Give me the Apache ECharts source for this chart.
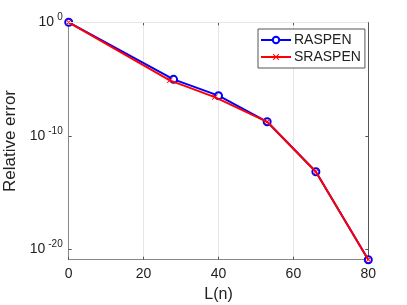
<!DOCTYPE html>
<html><head><meta charset="utf-8">
<script src="https://cdn.jsdelivr.net/npm/echarts@6/dist/echarts.min.js"></script>
<style>html,body{margin:0;padding:0;background:#fff}#c{width:407px;height:305px}</style>
</head><body><div id="c"></div>
<script>
var raspenX = [0, 28, 40, 53, 66, 80];
var raspenY = [1, 9.5e-6, 3.5e-7, 1.74e-9, 6.9e-14, 1.26e-21];
var sraspenX = [0, 27, 39, 53, 66, 80];
var sraspenY = [1, 7.8e-6, 2.6e-7, 1.74e-9, 6.9e-14, 1.26e-21];
var yMajorTicks = [1e-20, 1e-10, 1];
var yMinorGrid = [1e-15, 1e-5];
var xTicks = [0, 20, 40, 60, 80];

var font = 'Liberation Sans, Arial, sans-serif';
function pairs(xs, ys){ return xs.map(function(x,i){return [x, ys[i]];}); }
var crossPath = 'path://M0,1L1,0L5,4L9,0L10,1L6,5L10,9L9,10L5,6L1,10L0,9L4,5Z';

var chart = echarts.init(document.getElementById('c'));
chart.setOption({
  animation: false,
  backgroundColor: '#fff',
  grid: {left: 68.7, right: 38.7, top: 22.3, bottom: 45.3, containLabel: false, outerBoundsMode: 'none'},
  legend: {
    left: 258, top: 29, orient: 'vertical',
    backgroundColor: '#fff', borderColor: '#555', borderWidth: 1,
    padding: [4, 4, 4, 2], itemGap: 3, itemWidth: 30, itemHeight: 8,
    textStyle: {fontFamily: font, fontSize: 14, color: '#222', padding: [0,0,0,-2]},
    data: ['RASPEN', 'SRASPEN']
  },
  xAxis: [{
    type: 'value', min: 0, max: 80, interval: 20,
    name: 'L(n)', nameLocation: 'middle', nameGap: 27,
    nameTextStyle: {fontFamily: font, fontSize: 16, color: '#222'},
    axisLine: {show: true, onZero: false, lineStyle: {color: '#888', width: 1}},
    axisTick: {show: true, inside: true, length: 3, lineStyle: {color: '#555'}},
    axisLabel: {fontFamily: font, fontSize: 14, color: '#222', margin: 7, customValues: xTicks},
    splitLine: {show: true, lineStyle: {color: '#e6e6e6', width: 1}}
  }, {
    type: 'value', min: 0, max: 80, interval: 20, position: 'top',
    axisLine: {show: true, onZero: false, lineStyle: {color: '#555', width: 1}},
    axisTick: {show: true, inside: true, length: 3, lineStyle: {color: '#555'}},
    axisLabel: {show: false}, splitLine: {show: false}
  }],
  yAxis: [{
    type: 'log', logBase: 10, min: 1.26e-21, max: 1,
    name: 'Relative error', nameLocation: 'middle', nameGap: 48,
    nameTextStyle: {fontFamily: font, fontSize: 17, color: '#222'},
    axisLine: {show: true, onZero: false, lineStyle: {color: '#888', width: 1}},
    axisTick: {show: true, inside: true, length: 3, customValues: yMajorTicks, lineStyle: {color: '#555'}},
    axisLabel: {
      customValues: yMajorTicks, margin: 6,
      formatter: function(v){ return '{b|10}{s|' + Math.round(Math.log10(v)) + '}'; },
      rich: {
        b: {fontFamily: font, fontSize: 14, color: '#222'},
        s: {fontFamily: font, fontSize: 10, color: '#222', padding: [0, 0, 10, 3]}
      }
    },
    splitLine: {show: false}
  }, {
    type: 'log', logBase: 10, min: 1.26e-21, max: 1, position: 'right',
    axisLine: {show: true, onZero: false, lineStyle: {color: '#555', width: 1}},
    axisTick: {show: true, inside: true, length: 3, customValues: yMajorTicks, lineStyle: {color: '#555'}},
    axisLabel: {show: false}, splitLine: {show: false}
  }],
  series: [
    {
      name: 'RASPEN', type: 'line', data: pairs(raspenX, raspenY),
      symbol: 'emptyCircle', symbolSize: 7, showAllSymbol: true,
      lineStyle: {color: '#0000ff', width: 2},
      itemStyle: {color: '#0000ff', borderColor: '#0000ff', borderWidth: 1.5},
      z: 2,
      markLine: {
        silent: true, symbol: 'none', label: {show: false},
        lineStyle: {color: '#e6e6e6', type: 'solid', width: 1},
        data: yMajorTicks.map(function(v){ return {yAxis: v}; }).concat(
          yMinorGrid.map(function(v){ return {yAxis: v, lineStyle: {color: '#ddd', type: [1, 2], width: 1}}; }))
      }
    },
    {
      name: 'SRASPEN', type: 'line', data: pairs(sraspenX, sraspenY),
      symbol: crossPath, symbolSize: 6, showAllSymbol: true,
      lineStyle: {color: '#ff0000', width: 2},
      itemStyle: {color: '#ff0000'},
      z: 3
    }
  ]
});
</script>
</body></html>
